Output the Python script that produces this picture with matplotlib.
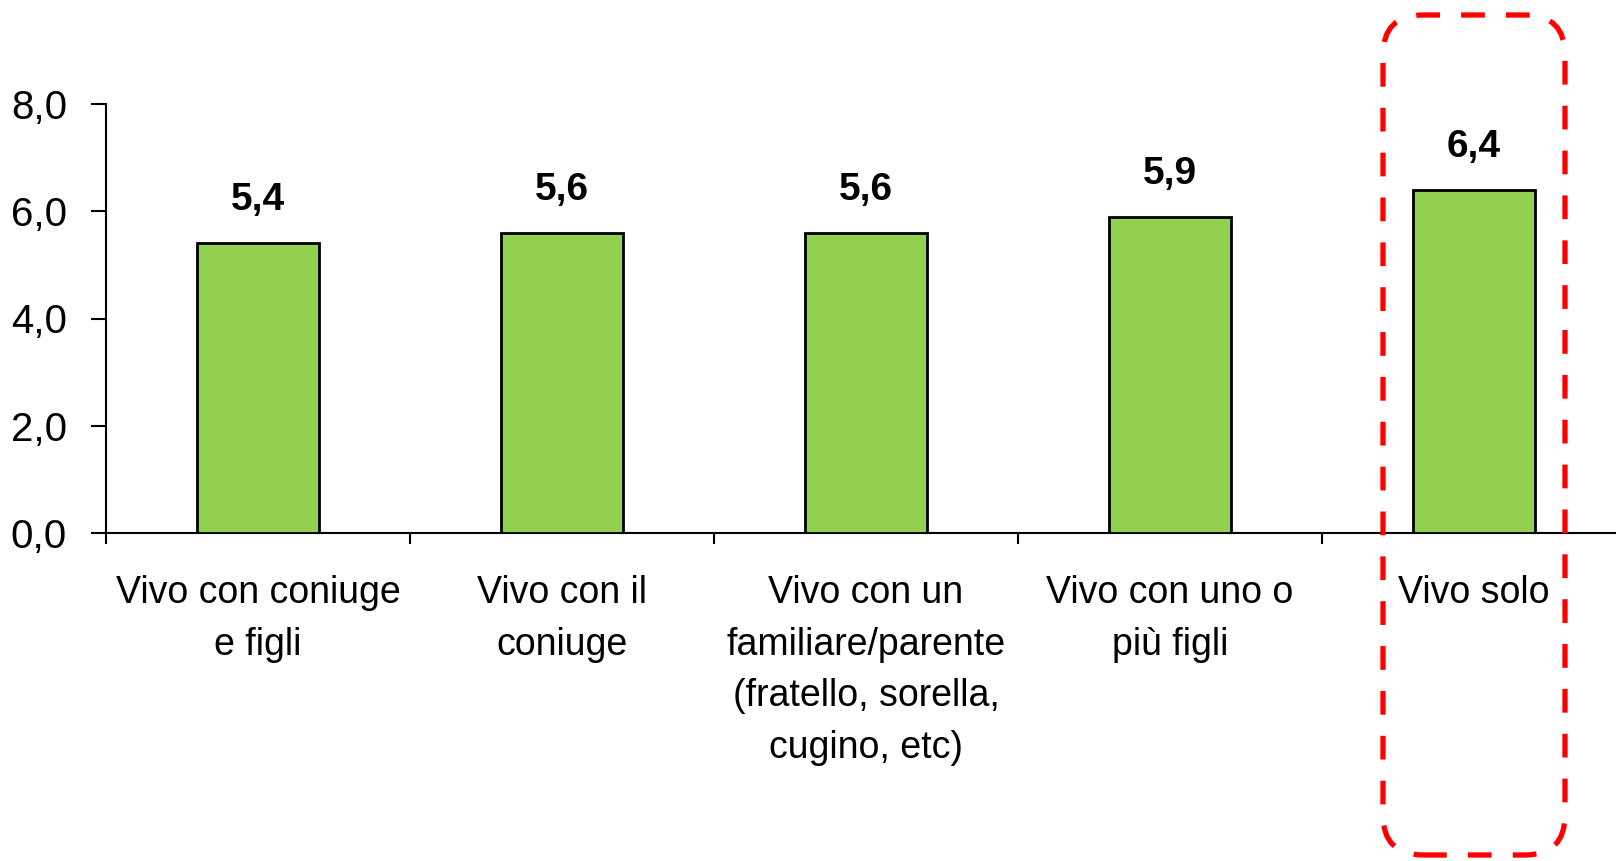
import matplotlib
matplotlib.use("Agg")
import matplotlib.pyplot as plt
from matplotlib.patches import FancyBboxPatch
from matplotlib.transforms import IdentityTransform

categories = ["Vivo con coniuge\ne figli", "Vivo con il\nconiuge",
              "Vivo con un\nfamiliare/parente\n(fratello, sorella,\ncugino, etc)",
              "Vivo con uno o\npiù figli", "Vivo solo"]
values = [5.4, 5.6, 5.6, 5.9, 6.4]
yticks = [0, 2, 4, 6, 8]
highlight = 4

plt.rcParams['font.family'] = ['Liberation Sans Narrow', 'Liberation Sans', 'DejaVu Sans']

W, H = 1616, 861
fig = plt.figure(figsize=(W / 100, H / 100), dpi=100)
ax = fig.add_axes([106 / W, 328 / H, 1520 / W, 429 / H])

x = list(range(len(values)))
ax.bar(x, values, width=0.4, color='#92D050', edgecolor='black', linewidth=2, zorder=3)

for xi, v in zip(x, values):
    ax.annotate(f"{v:.1f}".replace('.', ','), (xi, v), xytext=(0, 18), textcoords='offset points',
                ha='center', va='bottom', fontsize=28, fontweight='bold')

ax.set_xlim(-0.5, len(values) - 0.5)
ax.set_ylim(0, 8)
ax.set_yticks(yticks)
ax.set_yticklabels([f"{t:.1f}".replace('.', ',') for t in yticks], fontsize=29)
ax.tick_params(axis='y', direction='out', length=11, width=1.5, pad=17)

ax.set_xticks([i - 0.5 for i in range(len(values) + 1)])
ax.set_xticklabels([])
ax.set_xticks(x, minor=True)
ax.set_xticklabels(categories, minor=True, fontsize=27, linespacing=1.55, va='top')
ax.tick_params(axis='x', which='major', direction='out', length=8, width=1.5)
ax.tick_params(axis='x', which='minor', length=0, pad=30.5)

for s in ['top', 'right']:
    ax.spines[s].set_visible(False)
for s in ['left', 'bottom']:
    ax.spines[s].set_linewidth(1.5)

# red dashed rounded box around highlighted category
cx, _ = ax.transData.transform((highlight, 0))
bw = 182
box = FancyBboxPatch((cx - bw / 2, H - 855), bw, 840,
                     boxstyle="round,pad=0,rounding_size=40",
                     transform=IdentityTransform(), fill=False,
                     edgecolor='#FF0000', linewidth=3.8, linestyle=(0, (4.5, 4)))
fig.add_artist(box)

fig.savefig("out.png", dpi=100)
